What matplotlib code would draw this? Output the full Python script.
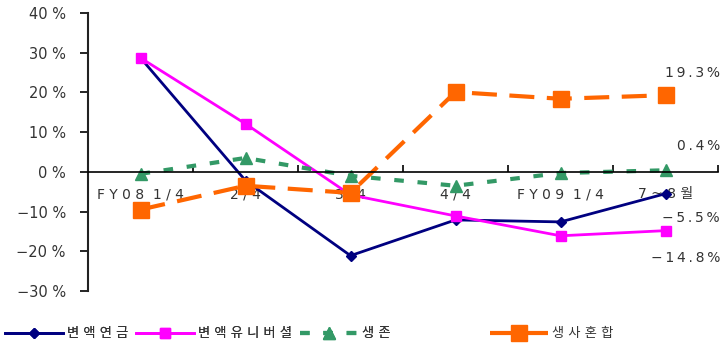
import matplotlib
matplotlib.use("Agg")
import matplotlib.pyplot as plt
from matplotlib.ticker import FuncFormatter
from matplotlib.transforms import blended_transform_factory

plt.rcParams["font.family"] = ["DejaVu Sans", "Noto Sans CJK KR"]

T = "\u2009"  # thin space, used to widen the letter spacing like the original


def spaced(s, sep=T):
    return sep.join(s)


# data
categories = ["F Y 0 8  1 / 4", "2 / 4", "3 / 4", "4 / 4", "F Y 0 9  1 / 4", "7 ~ 8 월"]
annuity = [28.7, -2.2, -21.1, -12.1, -12.6, -5.5]
universal = [28.7, 12.1, -5.8, -11.1, -16.1, -14.8]
survival = [-0.5, 3.5, -1.0, -3.5, -0.3, 0.4]
mixed = [-9.5, -3.5, -5.3, 20.1, 18.4, 19.3]
series_names = ["변액연금", "변액유니버셜", "생존", "생사혼합"]
end_labels = ["19.3%", "0.4%", "\u22125.5%", "\u221214.8%"]
end_label_y = [24.8, 6.5, -11.6, -21.6]
yticks = [-30, -20, -10, 0, 10, 20, 30, 40]

fig = plt.figure(figsize=(7.26, 3.47), dpi=100)
ax = fig.add_axes([88 / 726, 1 - 291 / 347, (718 - 88) / 726, (291 - 13) / 347])

x = list(range(len(categories)))
l1, = ax.plot(x, annuity, color="#000080", lw=2, marker="D", ms=5,
              label=spaced(series_names[0], " "))
l2, = ax.plot(x, universal, color="#FF00FF", lw=2, marker="s", ms=7,
              label=spaced(series_names[1], " "))
l3, = ax.plot(x, survival, color="#339966", lw=3, ls=(0, (2.3, 3.3)), marker="^", ms=8,
              label=spaced(series_names[2], " "))
l4, = ax.plot(x, mixed, color="#FF6600", lw=3, ls=(0, (6, 3)), marker="s", ms=12,
              label=spaced(series_names[3], " "))

trans = blended_transform_factory(fig.transFigure, ax.transData)
for txt, yy in zip(end_labels, end_label_y):
    ax.text(720 / 726, yy, spaced(txt), ha="right", va="center", fontsize=10,
            color="#333333", transform=trans)

ax.set_xlim(-0.5, 5.5)
ax.set_ylim(-30, 40)
ax.set_yticks(yticks)
ax.yaxis.set_major_formatter(FuncFormatter(
    lambda v, p: f"{int(v)} %".replace("-", "\u2212")))
ax.tick_params(axis="y", direction="out", length=6, width=1.2, labelsize=10.5,
               labelcolor="#333333", pad=10)

# x axis sits at zero, ticks on category boundaries
ax.spines["bottom"].set_position(("data", 0))
ax.spines["top"].set_visible(False)
ax.spines["right"].set_visible(False)
ax.spines["left"].set_color("#222222")
ax.spines["left"].set_linewidth(1.5)
ax.spines["bottom"].set_linewidth(1.2)
ax.set_xticks([i + 0.5 for i in range(-1, 6)], minor=False)
ax.set_xticklabels([])
ax.tick_params(axis="x", which="major", direction="in", length=5, width=1.2)
ax.set_xticks(x, minor=True)
ax.set_xticklabels(categories, minor=True)
ax.tick_params(axis="x", which="minor", length=0, labelsize=10,
               labelcolor="#333333", pad=11)

# legend in two parts to match the uneven gaps of the original
leg_kw = dict(frameon=False, fontsize=9.5, handlelength=4.4, handletextpad=0.3,
              labelcolor="#333333", borderpad=0, borderaxespad=0)
leg1 = fig.legend(handles=[l1, l2, l3], loc="center left",
                  bbox_to_anchor=(5 / 726, 13 / 347), ncol=3, columnspacing=0.6,
                  **leg_kw)
fig.add_artist(leg1)
fig.legend(handles=[l4], loc="center left", bbox_to_anchor=(490 / 726, 13 / 347),
           ncol=1, **leg_kw)

fig.savefig("out.png", dpi=100)
